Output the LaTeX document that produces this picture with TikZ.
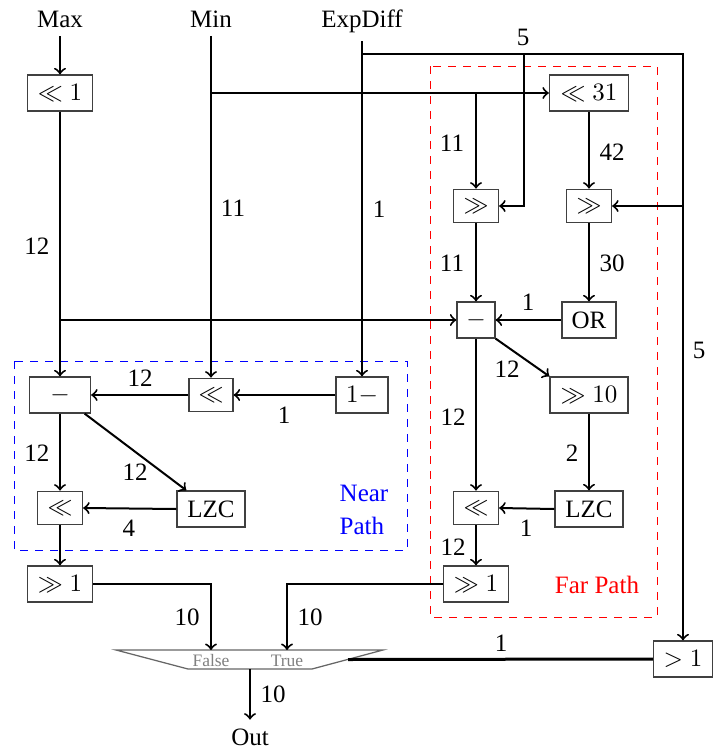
\documentclass[tikz,border=0pt]{standalone}
\usepackage[no-math]{fontspec}
\setmainfont{Liberation Serif}
\begin{document}
\begin{tikzpicture}[x=0.4pt,y=-0.4pt,
  box/.style={draw=black!75, line width=0.5pt, minimum height=14.4pt, inner sep=2pt},
  sbox/.style={box, minimum height=13.4pt, minimum width=18pt},
  arr/.style={thick,->},
  lbl/.style={inner sep=0pt},
  sel/.style={gray, font=\scriptsize, inner sep=0pt}]
\useasboundingbox (0,0) rectangle (715,754);
% dashed regions
\draw[red, dashed] (430,66) rectangle (657,617);
\draw[blue, dashed] (14,361) rectangle (407,550);
% inputs / output
\node[anchor=base] (max) at (60,27) {Max};
\node[anchor=base] (min) at (211,27) {Min};
\node[anchor=base] (exp) at (362,27) {ExpDiff};
\node[anchor=base] (out) at (250,745) {Out};
% far path
\node[box,minimum width=31.6pt] (s31) at (589,93) {$\ll 31$};
\node[sbox] (fr1) at (476,206) {$\gg$};
\node[sbox] (fr2) at (589,206) {$\gg$};
\node[box,minimum width=15.2pt] (fsub) at (476,320) {$-$};
\node[box,minimum width=21.6pt] (or) at (589,320) {OR};
\node[box,minimum width=31.2pt] (fr10) at (589,395) {$\gg 10$};
\node[sbox] (fsl) at (476,508) {$\ll$};
\node[box,minimum width=27.2pt] (flzc) at (589,509) {LZC};
\node[box,minimum width=26pt] (fr1b) at (476,584) {$\gg 1$};
\node[red] (farlbl) at (597,585) {Far Path};
% near path
\node[box,minimum width=26pt] (s1) at (60,93) {$\ll 1$};
\node[box,minimum width=24.4pt] (nsub) at (60,395) {$-$};
\node[sbox,minimum width=17.6pt] (nsl) at (211,395) {$\ll$};
\node[box,minimum width=20.8pt] (om) at (362,395) {$1-$};
\node[sbox] (nsl2) at (60,508) {$\ll$};
\node[box,minimum width=27.2pt] (nlzc) at (211,509) {LZC};
\node[box,minimum width=26pt] (nr1) at (60,584) {$\gg 1$};
\node[blue,align=left,font=\fontsize{10}{13}\selectfont] (nearlbl) at (364,510) {Near\\Path};
\node[box,minimum width=23.6pt] (gt) at (683,659) {$>1$};
% mux
\coordinate (mTL) at (116,650);
\coordinate (mTR) at (383,650);
\coordinate (mBR) at (312,669);
\coordinate (mBL) at (188,669);
\draw[black!60, line width=0.5pt] (mTL) -- (mTR) -- (mBR) -- (mBL) -- cycle;
\coordinate (muxF) at (211,650);
\coordinate (muxT) at (287,650);
\coordinate (muxS) at (348,659.5);
\coordinate (muxO) at (250,669);
\node[sel] (falselbl) at (211,661) {False};
\node[sel] (truelbl) at (287,661) {True};
% connectors
\coordinate (eR) at (683,54);
\coordinate (e5) at (524,54);
\draw[arr] (max.south) -- (s1.north);
\draw[arr] (s1.south) -- (nsub.north);
\draw[arr] (s1.south |- fsub.west) -- (fsub.west);
\draw[arr] (min.south) -- (nsl.north);
\draw[arr] (min.south |- s31.west) -- (s31.west);
\draw[arr] (fr1.north |- s31.west) -- (fr1.north);
\draw[arr] (exp.south) -- (om.north);
\draw[arr] (exp.south |- eR) -- (eR) -- (gt.north);
\draw[arr] (eR |- fr2.east) -- (fr2.east);
\draw[arr] (e5) |- (fr1.east);
\draw[arr] (s31.south) -- (fr2.north);
\draw[arr] (fr1.south) -- (fsub.north);
\draw[arr] (fr2.south) -- (or.north);
\draw[arr] (or.west) -- (fsub.east);
\draw[arr] (fsub.south east) -- (fr10.north west);
\draw[arr] (fsub.south) -- (fsl.north);
\draw[arr] (fr10.south) -- (flzc.north);
\draw[arr] (flzc.west) -- (fsl.east);
\draw[arr] (fsl.south) -- (fr1b.north);
\draw[arr] (fr1b.west) -| (muxT);
\draw[arr] (om.west) -- (nsl.east);
\draw[arr] (nsl.west) -- (nsub.east);
\draw[arr] (nsub.south) -- (nsl2.north);
\draw[arr] (nsub) -- (nlzc);
\draw[arr] (nlzc.west) -- (nsl2.east);
\draw[arr] (nsl2.south) -- (nr1.north);
\draw[arr] (nr1.east) -| (muxF);
\draw[line width=1.2pt] (gt.west) -- (muxS);
\draw[arr] (muxO) -- (out.north);
% width labels
\node[lbl] (w1) at (523,37) {5};
\node[lbl] (w2) at (452,143) {11};
\node[lbl] (w3) at (612,152) {42};
\node[lbl] (w4) at (233,208) {11};
\node[lbl] (w5) at (379,209) {1};
\node[lbl] (w6) at (37,246) {12};
\node[lbl] (w7) at (452,263) {11};
\node[lbl] (w8) at (612,263) {30};
\node[lbl] (w9) at (528,302) {1};
\node[lbl] (w10) at (699,350) {5};
\node[lbl] (w11) at (140,378) {12};
\node[lbl] (w12) at (284,415) {1};
\node[lbl] (w13) at (507,369) {12};
\node[lbl] (w14) at (453,417) {12};
\node[lbl] (w15) at (37,453) {12};
\node[lbl] (w16) at (572,453) {2};
\node[lbl] (w17) at (135,472) {12};
\node[lbl] (w18) at (129,528) {4};
\node[lbl] (w19) at (526,528) {1};
\node[lbl] (w20) at (453,547) {12};
\node[lbl] (w21) at (187,617) {10};
\node[lbl] (w22) at (310,617) {10};
\node[lbl] (w23) at (501,643) {1};
\node[lbl] (w24) at (273,694) {10};
\end{tikzpicture}
\end{document}
